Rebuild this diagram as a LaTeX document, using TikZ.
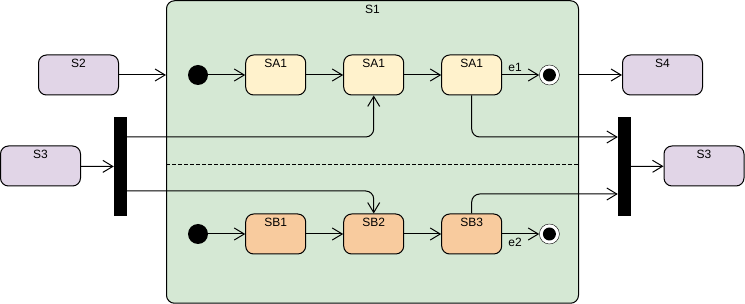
\documentclass[tikz,border=0pt]{standalone}
\usepackage{fontspec}
\setmainfont{Liberation Sans}
\usepackage{tikz}
\usetikzlibrary{arrows.meta, positioning, calc}

\definecolor{regiongreen}{HTML}{D5E8D4}
\definecolor{outerpurple}{HTML}{E1D5E7}
\definecolor{subayellow}{HTML}{FFF2CC}
\definecolor{suborange}{HTML}{F8CB9E}

\begin{document}
\begin{tikzpicture}[
    x=1pt, y=-1pt,
    node distance=37pt,
    font=\fontsize{12}{14}\selectfont,
    state/.style={draw, rectangle, rounded corners=8pt, line width=1pt, minimum width=60pt, minimum height=40pt, inner ysep=3pt, text height=10pt, text depth=24pt, anchor=center},
    outer/.style={state, fill=outerpurple, minimum width=80pt},
    bar/.style={rectangle, fill=black, minimum width=13pt, minimum height=99pt, inner sep=0pt},
    initial/.style={circle, fill=black, minimum size=20pt, inner sep=0pt},
    final/.style={circle, draw, fill=white, minimum size=20pt, inner sep=0pt, path picture={\fill[black] (path picture bounding box.center) circle (6.5pt);}},
    arrow/.style={line width=1pt, -{Straight Barb[length=10pt, width=12pt]}}
]
\useasboundingbox (0,0) rectangle (745,304);

% composite state
\node[state, fill=regiongreen, minimum width=412pt, minimum height=302.5pt, text depth=286.5pt] (s1) at (372.5,152) {S1};
\draw[line width=1pt, dash pattern=on 4pt off 2pt] ([yshift=-13pt]s1.west) -- ([yshift=-13pt]s1.east);

% upper region
\node[initial] (inita) at (198,75) {};
\node[state, fill=subayellow, right=of inita] (sa1) {SA1};
\node[state, fill=subayellow, right=of sa1] (sa2) {SA1};
\node[state, fill=subayellow, right=of sa2] (sa3) {SA1};
\node[final, right=of sa3] (fina) {};

% lower region
\node[initial] (initb) at (198,234) {};
\node[state, fill=suborange, right=of initb] (sb1) {SB1};
\node[state, fill=suborange, right=of sb1] (sb2) {SB2};
\node[state, fill=suborange, right=of sb2] (sb3) {SB3};
\node[final, right=of sb3] (finb) {};

% outside states and bars
\node[outer] (s2) at (78.5,75) {S2};
\node[outer] (s3l) at (40.5,166) {S3};
\node[bar] (fork) at (120.5,166.5) {};
\node[outer] (s4) at (662.5,75) {S4};
\node[bar] (join) at (624.5,166.5) {};
\node[outer] (s3r) at (704,166) {S3};

\draw[arrow] (inita) -- (sa1);
\draw[arrow] (sa1) -- (sa2);
\draw[arrow] (sa2) -- (sa3);
\draw[arrow] (sa3) -- node[above, pos=0.35] {e1} (fina);
\draw[arrow] (initb) -- (sb1);
\draw[arrow] (sb1) -- (sb2);
\draw[arrow] (sb2) -- (sb3);
\draw[arrow] (sb3) -- node[below, pos=0.35] {e2} (finb);

\draw[arrow] (s2) -- (s2 -| s1.west);
\draw[arrow] (s4 -| s1.east) -- (s4);
\draw[arrow] (s3l) -- (fork);
\draw[arrow] (join) -- (s3r);
\draw[arrow, rounded corners=8pt] ([yshift=29.5pt]fork.east) -| (sa2.south);
\draw[arrow, rounded corners=8pt] ([yshift=-24.5pt]fork.east) -| (sb2.north);
\draw[arrow, rounded corners=8pt] (sa3.south) |- ([yshift=29.5pt]join.west);
\draw[arrow, rounded corners=8pt] (sb3.north) |- ([yshift=-27.5pt]join.west);

\end{tikzpicture}
\end{document}
